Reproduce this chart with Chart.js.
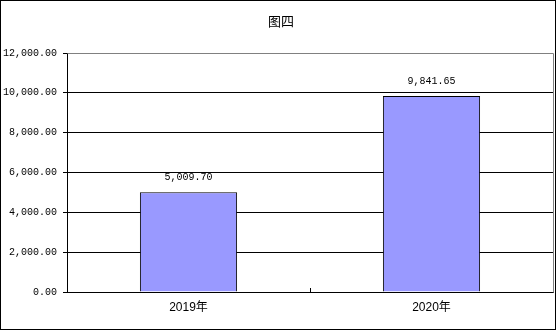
<!DOCTYPE html>
<html>
<head>
<meta charset="utf-8">
<script src="https://cdn.jsdelivr.net/npm/chart.js@4"></script>
<style>
  html, body { margin: 0; padding: 0; background: #fff; }
  #box { position: absolute; left: 0; top: 0; width: 556px; height: 330px; box-sizing: border-box; border: 1px solid #000; background: #fff; }
  #chart { display: block; }
</style>
</head>
<body>
<div id="box"><canvas id="chart" width="554" height="328"></canvas></div>
<script>
// dados do gráfico
const titulo = '图四';
const categorias = ['2019年', '2020年'];
const valores = [5009.70, 9841.65];
const yMax = 12000;
const yStep = 2000;

const fonteNum = '10px "Liberation Mono", "DejaVu Sans Mono", monospace';
const fmt = v => v.toLocaleString('en-US', { minimumFractionDigits: 2, maximumFractionDigits: 2 });

// titulo, borda da area do grafico, marcas do eixo x e rotulos das barras
const extras = {
    id: 'extras',
    beforeDatasetsDraw(chart) {
        const ctx = chart.ctx;
        const a = chart.chartArea;
        ctx.save();
        ctx.strokeStyle = '#808080';
        ctx.lineWidth = 1;
        ctx.beginPath();
        ctx.moveTo(Math.round(a.left) + 0.5, Math.round(a.top) + 0.5);
        ctx.lineTo(Math.round(a.right) + 0.5, Math.round(a.top) + 0.5);
        ctx.lineTo(Math.round(a.right) + 0.5, Math.round(a.bottom) + 0.5);
        ctx.stroke();
        // marcas entre categorias, para dentro
        const x = chart.scales.x;
        ctx.strokeStyle = '#000';
        for (let i = 0; i < categorias.length - 1; i++) {
            const px = Math.round((x.getPixelForTick(i) + x.getPixelForTick(i + 1)) / 2) + 0.5;
            ctx.beginPath();
            ctx.moveTo(px, a.bottom);
            ctx.lineTo(px, a.bottom - 4);
            ctx.stroke();
        }
        ctx.restore();
    },
    afterDatasetsDraw(chart) {
        const ctx = chart.ctx;
        ctx.save();
        ctx.font = fonteNum;
        ctx.fillStyle = '#000';
        ctx.textAlign = 'center';
        ctx.textBaseline = 'middle';
        chart.getDatasetMeta(0).data.forEach((bar, i) => {
            ctx.fillText(fmt(valores[i]), bar.x, bar.y - 15);
        });
        ctx.font = '13px "Noto Sans CJK SC", sans-serif';
        ctx.fillText(titulo, 280, 20);
        ctx.restore();
    }
};

new Chart(document.getElementById('chart'), {
    type: 'bar',
    data: {
        labels: categorias,
        datasets: [{
            data: valores,
            backgroundColor: '#9999FF',
            borderColor: '#000',
            borderWidth: 1,
            barPercentage: 0.4,
            categoryPercentage: 1
        }]
    },
    options: {
        responsive: false,
        animation: false,
        layout: { padding: { top: 52, right: 2, left: 0, bottom: 0 } },
        plugins: { legend: { display: false }, tooltip: { enabled: false } },
        scales: {
            x: {
                grid: { display: false },
                border: { color: '#000', width: 1 },
                ticks: { color: '#000', padding: 0, font: { family: '"Liberation Sans", "Noto Sans CJK SC", sans-serif', size: 12 } },
                afterFit(s) { s.height = 37; }
            },
            y: {
                min: 0,
                max: yMax,
                ticks: {
                    stepSize: yStep,
                    color: '#000',
                    padding: 6,
                    font: { family: '"Liberation Mono", "DejaVu Sans Mono", monospace', size: 10 },
                    callback: v => fmt(v)
                },
                grid: {
                    color: c => (c.tick && c.tick.value === yMax) ? '#808080' : '#000',
                    tickColor: '#000',
                    tickLength: 4
                },
                border: { color: '#000', width: 1 },
                afterFit(s) { s.width = 66; }
            }
        }
    },
    plugins: [extras]
});
</script>
</body>
</html>
